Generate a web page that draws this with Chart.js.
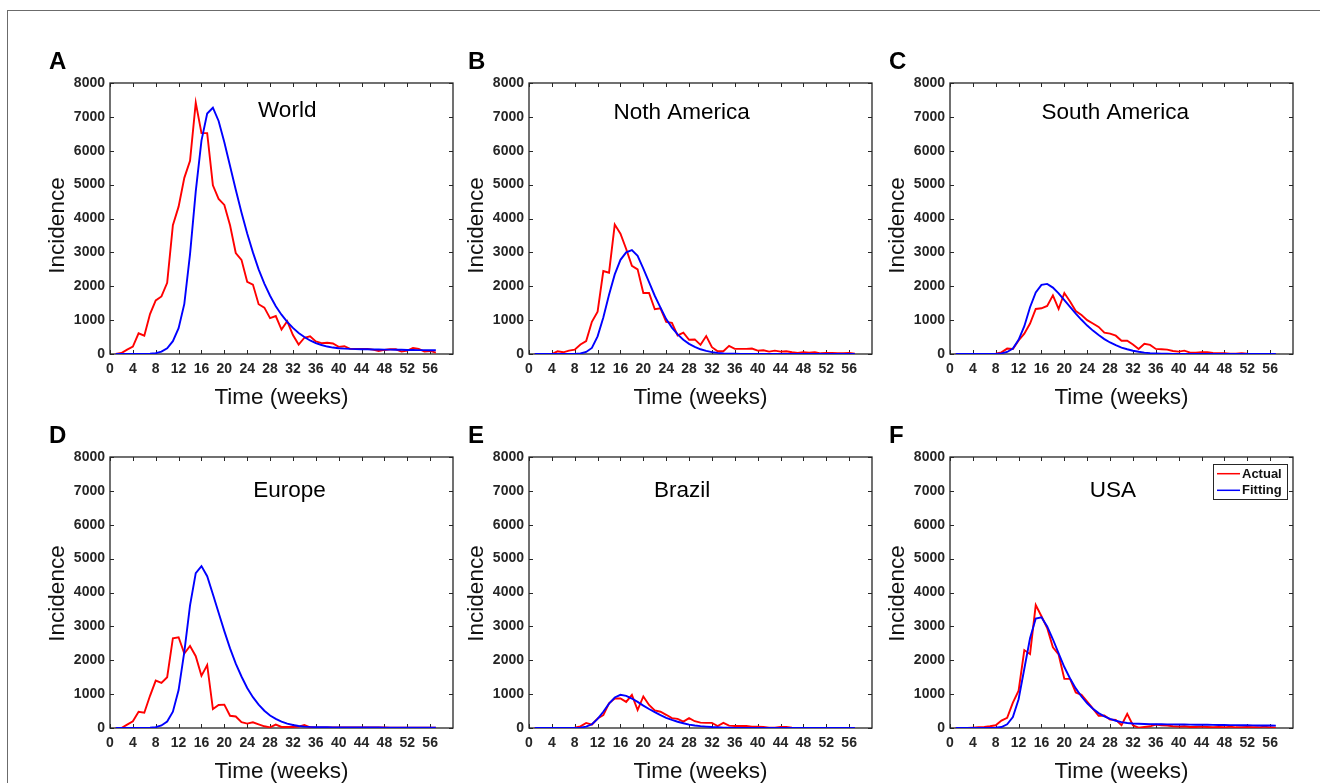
<!DOCTYPE html>
<html>
<head>
<meta charset="utf-8">
<title>Incidence – actual vs fitting</title>
<script src="https://cdn.jsdelivr.net/npm/chart.js@4.4.1/dist/chart.umd.min.js"></script>
<style>
  body { margin: 0; background: #fff; width: 1320px; height: 783px; overflow: hidden; position: relative; }
  #frame { position: absolute; left: 7px; top: 10px; width: 1330px; height: 800px;
           border-left: 1px solid #6b6b6b; border-top: 1px solid #6b6b6b; }
  canvas { position: absolute; }
</style>
</head>
<body>
<div id="frame"></div>
<canvas id="cA"></canvas>
<canvas id="cB"></canvas>
<canvas id="cC"></canvas>
<canvas id="cD"></canvas>
<canvas id="cE"></canvas>
<canvas id="cF"></canvas>
<script>
// ── Data (weekly incidence) ──────────────────────────────────────
const weeks = [1,2,3,4,5,6,7,8,9,10,11,12,13,14,15,16,17,18,19,20,21,22,23,24,25,26,27,28,29,30,
               31,32,33,34,35,36,37,38,39,40,41,42,43,44,45,46,47,48,49,50,51,52,53,54,55,56,57];

const xTicks = [0,4,8,12,16,20,24,28,32,36,40,44,48,52,56];
const yTicks = [0,1000,2000,3000,4000,5000,6000,7000,8000];

const worldActual = [0,30,130,220,610,540,1180,1580,1700,2100,3800,4350,5200,5700,7420,6520,6520,4980,4580,4400,
                     3800,2980,2780,2130,2050,1470,1370,1060,1120,720,970,560,280,480,520,370,320,330,310,210,
                     230,150,150,150,150,130,90,120,140,140,70,100,180,150,70,90,40];
const worldFitting = [0,0,0,0,0,2,8,25,70,170,380,760,1480,2950,4800,6300,7100,7270,6880,6250,
                      5550,4850,4180,3560,3000,2500,2080,1720,1410,1160,950,770,620,500,400,320,265,220,190,170,
                      160,150,145,140,140,135,135,130,130,125,125,120,120,115,115,110,110];

const northAmActual = [0,0,0,0,80,50,100,130,280,380,950,1250,2450,2400,3820,3550,3100,2600,2500,1800,
                       1800,1320,1350,950,920,550,630,420,430,270,530,200,80,80,240,150,150,150,160,100,
                       110,70,100,70,80,50,30,50,40,50,20,30,30,20,20,30,10];
const northAmFitting = [0,0,0,0,0,0,0,2,15,60,180,520,1080,1750,2350,2780,3000,3070,2900,2520,
                        2120,1720,1370,1030,780,580,420,300,210,140,90,55,32,18,10,6,4,3,2,2,
                        2,1,1,1,1,1,1,1,1,1,1,1,1,1,1,1,1];

const southAmActual = [0,0,0,0,0,0,0,10,50,160,150,400,600,900,1330,1350,1420,1730,1330,1800,
                       1550,1270,1150,1000,900,800,630,600,540,390,390,280,150,300,270,150,140,130,90,70,
                       100,40,40,50,50,30,20,20,10,10,20,10,5,5,0,0,0];
const southAmFitting = [0,0,0,0,0,0,0,5,20,60,160,420,820,1380,1820,2040,2070,1960,1790,1590,
                        1390,1190,1010,840,690,560,440,340,260,190,140,95,65,42,27,17,10,6,4,2,
                        1,1,1,1,1,1,1,1,1,1,1,1,1,1,1,1,1];

const europeActual = [0,0,100,200,480,450,950,1400,1330,1500,2650,2680,2200,2420,2120,1540,1860,560,680,690,
                      360,340,170,130,170,110,50,20,100,30,30,30,40,90,20,15,15,15,15,15,
                      15,15,15,15,15,15,15,15,10,10,10,10,10,10,10,10,10];
const europeFitting = [0,0,0,0,0,2,8,25,75,190,480,1120,2250,3620,4570,4780,4480,3950,3400,2860,
                       2350,1900,1520,1180,910,690,510,370,270,190,130,90,60,42,32,26,22,20,18,17,
                       16,15,15,14,14,13,13,12,12,11,11,10,10,10,9,9,9];

const brazilActual = [0,0,0,0,0,0,0,10,50,150,100,280,380,730,870,870,770,980,530,930,
                      680,520,480,390,290,270,190,290,200,160,150,150,60,150,70,60,60,60,40,40,
                      30,10,10,30,30,10,5,5,5,5,5,5,5,5,5,5,5];
const brazilFitting = [0,0,0,0,0,0,0,2,10,40,110,270,480,720,900,980,950,870,770,660,
                       560,470,380,300,240,185,140,100,75,55,40,28,20,12,8,5,4,3,2,2,
                       1,1,1,1,1,1,1,1,1,1,1,1,1,1,1,1,1];

const usaActual = [0,0,0,10,20,30,50,80,220,300,750,1100,2300,2180,3630,3300,2950,2380,2170,1450,
                   1450,1050,980,780,570,360,370,250,240,80,420,80,10,30,50,100,80,70,50,40,
                   50,30,30,40,30,20,30,20,40,20,20,30,20,20,40,20,10];
const usaFitting = [0,0,0,0,0,0,0,10,30,110,320,850,1750,2650,3230,3270,3000,2620,2200,1800,
                    1460,1170,930,730,570,440,345,270,215,175,148,132,124,118,115,112,110,108,106,104,
                    102,100,98,96,94,92,90,88,86,84,82,80,78,76,74,72,70];

// ── Look ─────────────────────────────────────────────────────────
const FONT = "'Liberation Sans', Arial, Helvetica, sans-serif";
const AXIS_COLOR = '#262626';
const RED = '#ff0000';
const BLUE = '#0000ff';

const PLOT_W = 343, PLOT_H = 271;
const Y_AXIS_W = 80, X_AXIS_H = 70, PAD_TOP = 50, PAD_RIGHT = 8;
const TICK = 4;

Chart.defaults.font.family = FONT;
Chart.defaults.color = AXIS_COLOR;

// panels: letter, name, series, plot-area position, where the name sits (data coords),
// and how far the y label sits below the axis middle (top row is a bit lower)
const panels = [
  { id: 'cA', letter: 'A', name: 'World',         actual: worldActual,   fitting: worldFitting,   left: 110, top: 83,  nameAt: [31.0, 7000], yShift: 7 },
  { id: 'cB', letter: 'B', name: 'Noth America',  actual: northAmActual, fitting: northAmFitting, left: 529, top: 83,  nameAt: [26.7, 6940], yShift: 7 },
  { id: 'cC', letter: 'C', name: 'South America', actual: southAmActual, fitting: southAmFitting, left: 950, top: 83,  nameAt: [28.9, 6940], yShift: 7 },
  { id: 'cD', letter: 'D', name: 'Europe',        actual: europeActual,  fitting: europeFitting,  left: 110, top: 457, nameAt: [31.4, 6830], yShift: 1 },
  { id: 'cE', letter: 'E', name: 'Brazil',        actual: brazilActual,  fitting: brazilFitting,  left: 529, top: 457, nameAt: [26.8, 6830], yShift: 1 },
  { id: 'cF', letter: 'F', name: 'USA',           actual: usaActual,     fitting: usaFitting,     left: 950, top: 457, nameAt: [28.5, 6830], yShift: 1, legend: true }
];

// ── MATLAB-like box with inward ticks on all four sides ─────────
const axesBox = {
  id: 'axesBox',
  beforeDatasetsDraw(chart) {
    const { ctx, chartArea: a, scales: { x, y } } = chart;
    ctx.save();
    ctx.strokeStyle = AXIS_COLOR;
    ctx.lineWidth = 1;
    ctx.beginPath();
    xTicks.forEach(v => {
      const px = Math.round(x.getPixelForValue(v)) + 0.5;
      ctx.moveTo(px, a.bottom); ctx.lineTo(px, a.bottom - TICK);
      ctx.moveTo(px, a.top);    ctx.lineTo(px, a.top + TICK);
    });
    yTicks.forEach(v => {
      const py = Math.round(y.getPixelForValue(v)) + 0.5;
      ctx.moveTo(a.left, py);  ctx.lineTo(a.left + TICK, py);
      ctx.moveTo(a.right, py); ctx.lineTo(a.right - TICK, py);
    });
    ctx.stroke();
    ctx.lineWidth = 1.3;
    ctx.strokeRect(a.left, a.top, a.right - a.left, a.bottom - a.top);
    ctx.restore();
  }
};

// ── Panel letter, y label, region name and (optional) boxed legend ──
const panelText = {
  id: 'panelText',
  afterDraw(chart, args, opts) {
    const { ctx, chartArea: a, scales: { x, y } } = chart;
    ctx.save();
    ctx.fillStyle = '#000';
    ctx.textAlign = 'left';
    ctx.textBaseline = 'alphabetic';
    ctx.font = 'bold 24px ' + FONT;
    ctx.fillText(opts.letter, a.left - 61, a.top - 14.5);

    // y label
    ctx.save();
    ctx.font = '22.5px ' + FONT;
    ctx.fillStyle = '#111';
    ctx.translate(a.left - 52.5, (a.top + a.bottom) / 2 + opts.yShift);
    ctx.rotate(-Math.PI / 2);
    ctx.textAlign = 'center';
    ctx.textBaseline = 'middle';
    ctx.fillText('Incidence', 0, 0);
    ctx.restore();

    ctx.font = '22.5px ' + FONT;
    ctx.textAlign = 'center';
    ctx.fillText(opts.name, x.getPixelForValue(opts.nameAt[0]), y.getPixelForValue(opts.nameAt[1]));

    if (opts.legend) {
      const bw = 74, bh = 35;
      const bx = a.right - 6 - bw, by = a.top + 7;
      ctx.fillStyle = '#fff';
      ctx.fillRect(bx, by, bw, bh);
      ctx.strokeStyle = AXIS_COLOR;
      ctx.lineWidth = 1;
      ctx.strokeRect(bx + 0.5, by + 0.5, bw, bh);
      ctx.font = 'bold 13px ' + FONT;
      ctx.textAlign = 'left';
      ctx.textBaseline = 'middle';
      chart.data.datasets.forEach((d, i) => {
        const ry = by + 9.7 + i * 16.6;
        ctx.strokeStyle = d.borderColor;
        ctx.lineWidth = 1.5;
        ctx.beginPath();
        ctx.moveTo(bx + 4, ry); ctx.lineTo(bx + 27, ry);
        ctx.stroke();
        ctx.fillStyle = '#111';
        ctx.fillText(d.label, bx + 29, ry + 0.5);
      });
    }
    ctx.restore();
  }
};

const tickFont = { family: FONT, size: 14, weight: 'bold' };
const labelFont = { family: FONT, size: 22.5 };

const renderPanel = p => {
  const el = document.getElementById(p.id);
  el.width = Y_AXIS_W + PLOT_W + PAD_RIGHT;
  el.height = PAD_TOP + PLOT_H + X_AXIS_H;
  el.style.left = (p.left - Y_AXIS_W) + 'px';
  el.style.top = (p.top - PAD_TOP) + 'px';

  new Chart(el.getContext('2d'), {
    type: 'line',
    data: {
      datasets: [
        { label: 'Actual',  data: weeks.map((w, i) => ({ x: w, y: p.actual[i] })),
          borderColor: RED,  borderWidth: 1.9, order: 1 },
        { label: 'Fitting', data: weeks.map((w, i) => ({ x: w, y: p.fitting[i] })),
          borderColor: BLUE, borderWidth: 1.9, order: 0 }
      ]
    },
    options: {
      responsive: false,
      animation: false,
      events: [],
      elements: { point: { radius: 0 }, line: { tension: 0, fill: false } },
      layout: { padding: { top: PAD_TOP, right: PAD_RIGHT, left: 0, bottom: 0 } },
      plugins: {
        legend: { display: false },
        tooltip: { enabled: false },
        panelText: { letter: p.letter, name: p.name, nameAt: p.nameAt, yShift: p.yShift, legend: !!p.legend }
      },
      scales: {
        x: {
          type: 'linear', min: 0, max: 60,
          afterBuildTicks: s => { s.ticks = xTicks.map(v => ({ value: v })); },
          afterFit: s => { s.height = X_AXIS_H; },
          grid: { display: false, drawTicks: false }, border: { display: false },
          ticks: { font: tickFont, color: AXIS_COLOR, padding: 6.5, maxRotation: 0, autoSkip: false,
                   callback: v => String(v) },
          title: { display: true, text: 'Time (weeks)', font: labelFont, color: '#111', padding: { top: 0, bottom: 12.5 } }
        },
        y: {
          min: 0, max: 8000,
          afterBuildTicks: s => { s.ticks = yTicks.map(v => ({ value: v })); },
          afterFit: s => { s.width = Y_AXIS_W; },
          grid: { display: false, drawTicks: false }, border: { display: false },
          ticks: { font: tickFont, color: AXIS_COLOR, padding: 5, callback: v => String(v) }
        }
      }
    },
    plugins: [axesBox, panelText]
  });
};

panels.forEach(renderPanel);
</script>
</body>
</html>
